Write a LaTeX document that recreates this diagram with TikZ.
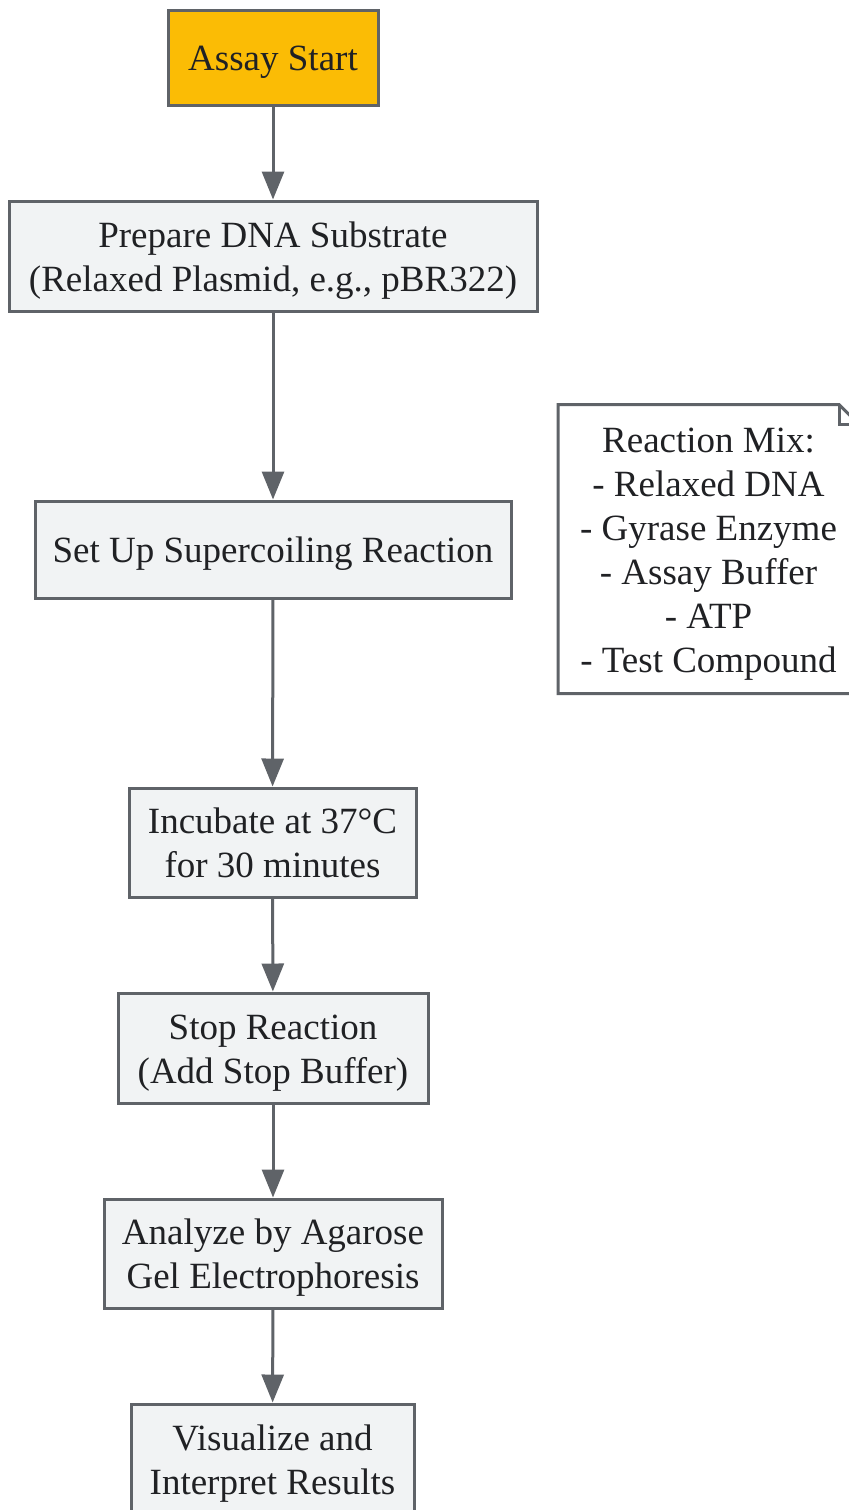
\documentclass[tikz,border=0pt]{standalone}
\usepackage{fontspec}
\setmainfont{Liberation Serif}
\usetikzlibrary{arrows.meta,calc}
\definecolor{boxfill}{HTML}{F1F3F4}
\definecolor{boxline}{HTML}{5F6368}
\definecolor{txt}{HTML}{202124}
\definecolor{startfill}{HTML}{FBBC05}
\newcommand{\ls}{\rule[-4.5pt]{0pt}{22pt}}
\begin{document}
\begin{tikzpicture}[x=0.5pt,y=-0.5pt,
  stepbox/.style={draw=boxline,line width=1.5pt,fill=boxfill,text=txt,align=center,inner sep=0pt,
    font=\fontsize{18.5pt}{22pt}\selectfont},
  conn/.style={draw=boxline,line width=1.5pt,-{Triangle[width=11pt,length=14pt]}}]
\clip (0,0) rectangle (849,1510);
\node[stepbox,fill=startfill,minimum width=105pt,minimum height=47.5pt] (start) at (273,57.5) {\ls Assay Start\ls};
\node[stepbox,minimum width=264pt,minimum height=55pt] (prep) at (273,256) {\ls Prepare DNA Substrate\ls\\\ls(Relaxed Plasmid, e.g., pBR322)\ls};
\node[stepbox,minimum width=238pt,minimum height=48.5pt] (setup) at (273,549.5) {\ls Set Up Supercoiling Reaction\ls};
\node[stepbox,minimum width=143.5pt,minimum height=54.5pt] (incub) at (272.5,842.5) {\ls Incubate at 37°C\ls\\\ls for 30 minutes\ls};
\node[stepbox,minimum width=155pt,minimum height=55pt] (stop) at (273,1048) {\ls Stop Reaction\ls\\\ls(Add Stop Buffer)\ls};
\node[stepbox,minimum width=169pt,minimum height=54.5pt] (anal) at (273,1253.5) {\ls Analyze by Agarose\ls\\\ls Gel Electrophoresis\ls};
\node[stepbox,minimum width=141.5pt,minimum height=55pt] (vis) at (272.5,1459) {\ls Visualize and\ls\\\ls Interpret Results\ls};
\node[stepbox,draw=none,fill=white,minimum width=149pt,minimum height=143pt] (note) at (708.5,549)
  {\ls Reaction Mix:\ls\\\ls- Relaxed DNA\ls\\\ls- Gyrase Enzyme\ls\\\ls- Assay Buffer\ls\\\ls- ATP\ls\\\ls- Test Compound\ls};
\draw[boxline,line width=1.5pt,line join=miter]
  (note.south west) -- (note.north west) -- ($(note.north east)+(-20,0)$) -- ($(note.north east)+(0,20)$) -- (note.south east) -- cycle;
\draw[boxline,line width=1.5pt]
  ($(note.north east)+(-20,0)$) -- ($(note.north east)+(-20,20)$) -- ($(note.north east)+(0,20)$);
\draw[conn] (start) -- (prep);
\draw[conn] (prep) -- (setup);
\draw[conn] (setup) -- (incub);
\draw[conn] (incub) -- (stop);
\draw[conn] (stop) -- (anal);
\draw[conn] (anal) -- (vis);
\end{tikzpicture}
\end{document}
